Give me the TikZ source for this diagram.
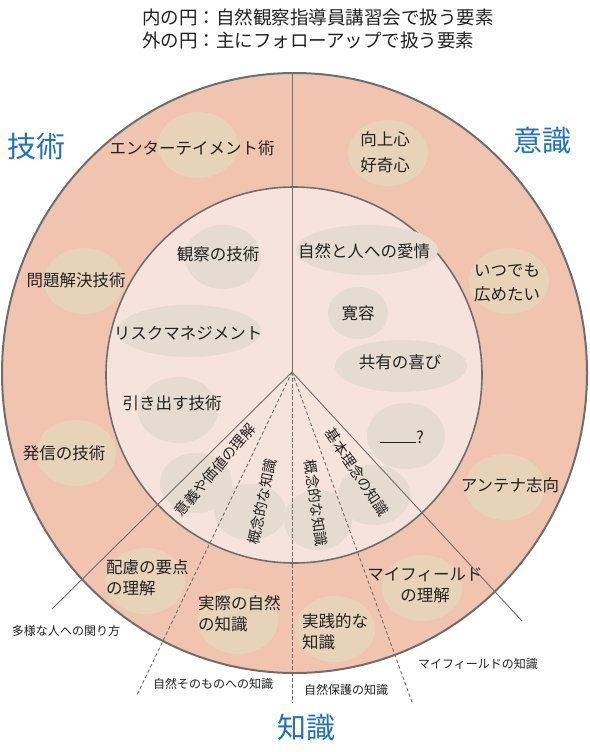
\documentclass[tikz,border=0pt]{standalone}
\usepackage{fontspec}
\setmainfont{Noto Sans CJK JP}
\usetikzlibrary{positioning}
\definecolor{ring}{HTML}{F1C4AF}
\definecolor{core}{HTML}{F6E3DB}
\definecolor{tan}{HTML}{E6D3B8}
\definecolor{ash}{HTML}{E5DBD0}
\definecolor{edge}{HTML}{6E6E6E}
\definecolor{heading}{HTML}{1F70BE}
\definecolor{ink}{HTML}{222222}

\begin{document}
\begin{tikzpicture}[x=1pt,y=-1pt,
    txt/.style={font=\fontsize{16.5}{21}\selectfont,text=ink,inner sep=0pt,align=center},
    slant/.style={font=\fontsize{14.5}{16}\selectfont,text=ink,inner sep=0pt},
    tag/.style={font=\fontsize{12}{14}\selectfont,text=ink,inner sep=0pt},
    area/.style={font=\fontsize{29}{32}\selectfont,text=heading,inner sep=0pt},
    spoke/.style={draw=edge,line width=0.9pt},
    dashspoke/.style={spoke,dash pattern=on 3.5pt off 2.5pt}]
  \useasboundingbox (0,0) rectangle (589,752);
  \node[anchor=west,font=\fontsize{18.5}{22}\selectfont,text=ink,inner sep=0pt] (innerkey) at (142,17) {内の円：自然観察指導員講習会で扱う要素};
  \node[anchor=west,font=\fontsize{18.5}{22}\selectfont,text=ink,inner sep=0pt] (outerkey) at (142,40) {外の円：主にフォローアップで扱う要素};

  \filldraw[fill=ring,draw=edge,line width=2pt] (294.5,373) ellipse [x radius=292.5pt,y radius=300pt];
  \foreach \x/\y in {198/145,388/153,84/281,509/281,76/453,505/487,145/581,238/621,335/629,422/588}
    \fill[tan] (\x,\y) ellipse [x radius=40pt,y radius=33pt];
  \filldraw[fill=core,draw=edge,line width=1.6pt] (294,375) circle [radius=188pt];
  \foreach \x/\y/\rx/\ry in {223/257/38pt/32pt, 367/250/71pt/25pt, 358/313/30pt/26pt, 189/331/72pt/26pt,
      401/366/66pt/26pt, 178/410/40pt/33pt, 406/436/39pt/33pt, 374/495/36pt/30pt,
      318/520/34pt/30pt, 250/512/36pt/28pt, 196/483/36pt/30pt}
    \fill[ash] (\x,\y) ellipse [x radius=\rx,y radius=\ry];

  \coordinate (hub) at (292,372);
  \coordinate (north) at (292,73);
  \coordinate (diverse) at (52,609);
  \coordinate (wild) at (137,695);
  \coordinate (protect) at (292,703);
  \coordinate (own) at (412,702);
  \coordinate (myfield) at (522,621);
  \draw[spoke] (hub) -- (north);
  \draw[spoke] (hub) -- (diverse);
  \draw[spoke] (hub) -- (myfield);
  \foreach \e in {wild,protect,own}
    \draw[dashspoke] (hub) -- (\e);

  \foreach \n/\x/\y/\t in {enter/192/148/エンターテイメント術, kojo/385/152/向上心\\[5pt]好奇心,
      mondai/76/280/問題解決技術, itsu/507/283/いつでも\\[3pt]広めたい, hasshin/64/453/発信の技術,
      antena/510/485/アンテナ志向, mine/425/585/マイフィールド\\の理解,
      kansatsu/218/254/観察の技術, aijo/364/251/自然と人への愛情, kanyo/358/313/寛容,
      risk/188/333/リスクマネジメント, kyoyu/400/362/共有の喜び, hikidasu/172/403/引き出す技術,
      blank/402/437/{\rule{36pt}{0.7pt}?}}
    \node[txt] (\n) at (\x,\y) {\t};
  \foreach \n/\x/\y/\t in {hairyo/106/578/配慮の要点\\の理解, jissai/198/614/実際の自然\\の知識,
      jissen/302/632/実践的な\\知識}
    \node[txt,align=left,anchor=west] (\n) at (\x,\y) {\t};

  \foreach \n/\x/\y/\r/\t in {igi/215/470/50/意義や価値の理解, gainen/262/502/78/概念的な知識,
      gainenb/316/503/-82/概念的な知識, rinen/357/472/-56/基本理念の知識}
    \node[slant,rotate=\r] (\n) at (\x,\y) {\t};

  \foreach \n/\x/\y/\t in {tayo/66/631/多様な人への関り方, sonomono/213/684/自然そのものへの知識,
      hogo/346/690/自然保護の知識, myknow/478/664/マイフィールドの知識}
    \node[tag] (\n) at (\x,\y) {\t};

  \node[area] (gijutsu) at (37,146) {技術};
  \node[area] (ishiki) at (542,141) {意識};
  \node[area] (chishiki) at (306,728) {知識};
\end{tikzpicture}
\end{document}
